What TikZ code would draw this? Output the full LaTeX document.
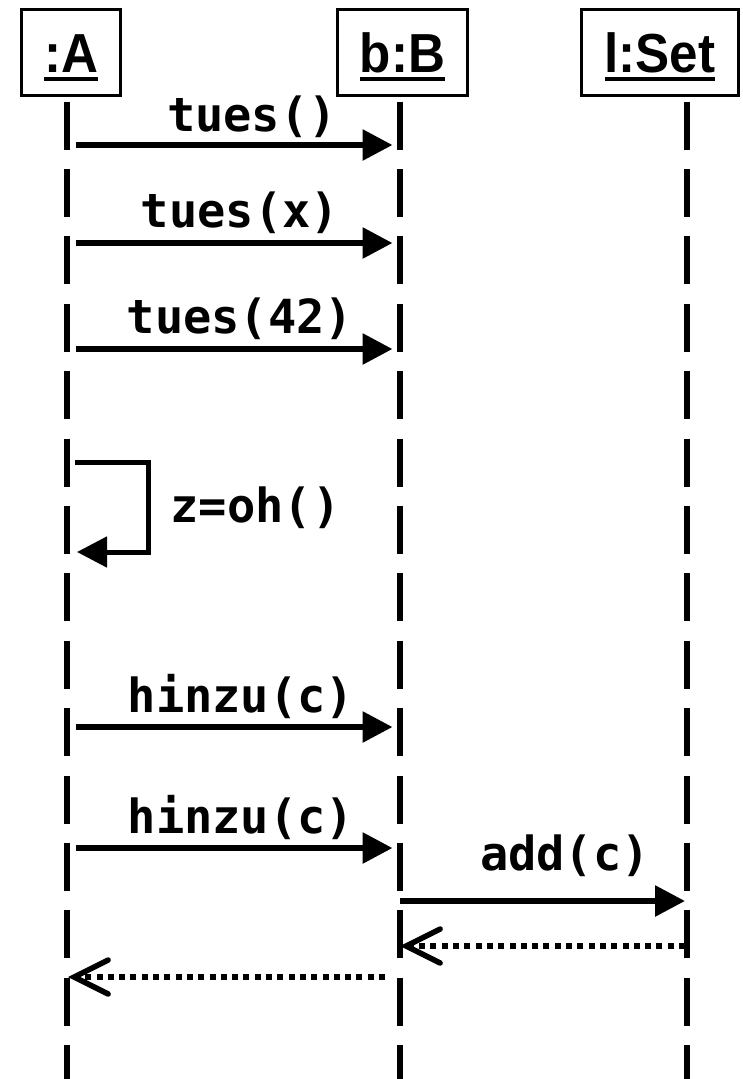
\documentclass[tikz,border=0pt]{standalone}
\usepackage{fontspec}
\usepackage{graphicx}
\usetikzlibrary{arrows.meta, positioning, calc}
\newfontfamily\objfont{Liberation Sans}
\newfontfamily\msgfont{DejaVu Sans Mono}

% underlined object name, a little condensed
\newcommand{\objname}[1]{\scalebox{0.93}[1]{\setbox0\hbox{#1}\rlap{\rule[-9pt]{\wd0}{4.3pt}}\box0}}

\tikzset{
	objbox/.style={draw=black, line width=3pt, fill=white, minimum height=86pt,
		inner sep=0pt, text height=48pt, text depth=9pt,
		font=\objfont\bfseries\fontsize{55}{60}\selectfont},
	lifeline/.style={line width=6pt, shorten <=4.5pt, dash pattern=on 48pt off 19.4pt},
	msglabel/.style={anchor=base, inner sep=0pt, font=\msgfont\bfseries\fontsize{47}{50}\selectfont},
	call/.style={line width=6pt, -{Triangle[length=30pt, width=30pt]}},
	selfcall/.style={line width=5pt, line join=miter, -{Triangle[length=30pt, width=30pt]}},
	reply/.style={line width=5.5pt, dash pattern=on 6pt off 5.3pt,
		-{Straight Barb[length=34pt, width=34pt, line cap=round]}},
}

\begin{document}
\begin{tikzpicture}[x=1pt, y=-1pt]
			\useasboundingbox (0,0) rectangle (742,1079);
			
			% objects
			\node[objbox, minimum width=99pt] (A) at (71,52.5) {\objname{:A}};
			\node[objbox, minimum width=130pt] (B) at (402.5,52.5) {\objname{b:B}};
			\node[objbox, minimum width=157pt] (S) at (660,52.5) {\objname{l:Set}};
			
			\coordinate (A-end) at (67,1079);
			\coordinate (B-end) at (400,1079);
			\coordinate (S-end) at (686.5,1079);
			
			\draw[lifeline] (A.south -| A-end) -- (A-end);
			\draw[lifeline] (B.south -| B-end) -- (B-end);
			\draw[lifeline] (S.south -| S-end) -- (S-end);
			
			% message rows
			\coordinate (m1) at (0,145);
			\coordinate (m2) at (0,243);
			\coordinate (m3) at (0,349);
			\coordinate (s1) at (0,462);
			\coordinate (s2) at (0,552);
			\coordinate (m5) at (0,727);
			\coordinate (m6) at (0,848);
			\coordinate (m7) at (0,901);
			\coordinate (r1) at (0,946);
			\coordinate (r2) at (0,977);
			
			\node[msglabel] (l1) at (252,131) {tues()};
			\draw[call] ($(A-end |- m1)+(8.5,0)$) -- ($(B-end |- m1)+(-7.5,0)$);
			
			\node[msglabel] (l2) at (240,227) {tues(x)};
			\draw[call] ($(A-end |- m2)+(8.5,0)$) -- ($(B-end |- m2)+(-7.5,0)$);
			
			\node[msglabel] (l3) at (240,333) {tues(42)};
			\draw[call] ($(A-end |- m3)+(8.5,0)$) -- ($(B-end |- m3)+(-7.5,0)$);
			
			\node[msglabel] (l4) at (255.5,522) {z=oh()};
			\draw[selfcall] ($(A-end |- s1)+(8,0)$) -| ($(A-end |- s2)+(81.5,0)$) -- ($(A-end |- s2)+(10,0)$);
			
			\node[msglabel] (l5) at (241,712) {hinzu(c)};
			\draw[call] ($(A-end |- m5)+(8.5,0)$) -- ($(B-end |- m5)+(-7.5,0)$);
			
			\node[msglabel] (l6) at (241,833) {hinzu(c)};
			\draw[call] ($(A-end |- m6)+(8.5,0)$) -- ($(B-end |- m6)+(-7.5,0)$);
			
			\node[msglabel] (l7) at (565,870) {add(c)};
			\draw[call] (B-end |- m7) -- ($(S-end |- m7)+(-1.5,0)$);
			
			% replies
			\draw[reply] ($(S-end |- r1)+(-1.5,0)$) -- (B-end |- r1);
			\draw[reply] ($(B-end |- r2)+(-15,0)$) -- ($(A-end |- r2)+(1,0)$);
		\end{tikzpicture}
\end{document}
